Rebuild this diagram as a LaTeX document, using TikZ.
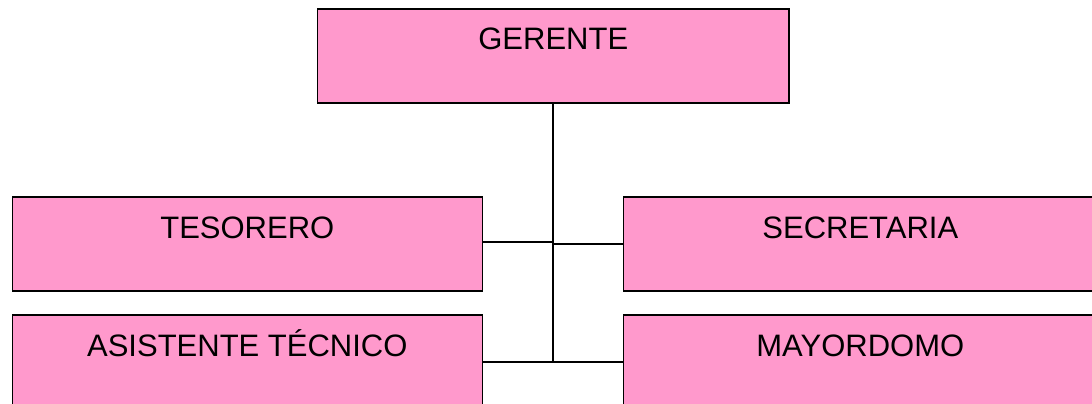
\documentclass[tikz,border=0pt]{standalone}
\usepackage{fontspec}
\setmainfont{Liberation Sans}
\definecolor{rosa}{HTML}{FF99CC}
\begin{document}
\begin{tikzpicture}[x=1pt, y=-1pt,
  cargo/.style={rectangle, draw=black, fill=rosa, line width=1.6pt, anchor=north west,
    inner xsep=0pt, inner ysep=0pt, outer sep=0pt, text height=41pt, text depth=53pt,
    minimum width=#1, font=\fontsize{31}{36}\selectfont},
  enlace/.style={draw=black, line width=1.6pt}]
  \useasboundingbox (0,0) rectangle (1092,404);
  \node [cargo=471.5pt] (Gerente) at (317.5,9) {GERENTE};
  \node [cargo=470pt] (Tesorero) at (12.3,197) {TESORERO};
  \node [cargo=474pt] (Secretaria) at (623.3,197) {SECRETARIA};
  \node [cargo=470pt] (Asistente) at (12.3,315) {ASISTENTE TÉCNICO};
  \node [cargo=474pt] (Mayordomo) at (623.3,315) {MAYORDOMO};
  % lineas del organigrama
  \draw [enlace] (Gerente.south) -- (Gerente.south |- Asistente.east);
  \draw [enlace] ([yshift=2pt]Tesorero.east) -- ([yshift=2pt]Tesorero.east -| Gerente.south);
  \draw [enlace] (Secretaria.west) -- (Secretaria.west -| Gerente.south);
  \draw [enlace] (Asistente.east) -- (Mayordomo.west);
\end{tikzpicture}
\end{document}
